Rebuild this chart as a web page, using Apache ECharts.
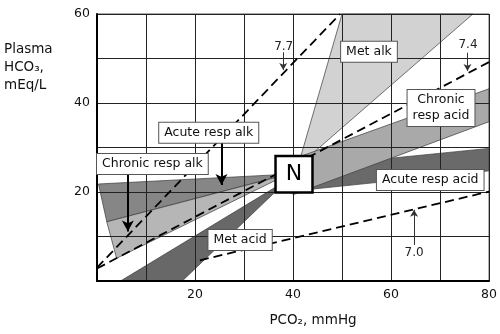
<!DOCTYPE html>
<html><head><meta charset="utf-8">
<script src="https://cdn.jsdelivr.net/npm/echarts@6/dist/echarts.min.js"></script>
<style>html,body{margin:0;padding:0;background:#fff}#c{width:500px;height:334px}</style>
</head><body><div id="c"></div>
<script>
// ---- data (PCO2 mmHg, plasma HCO3 mEq/L) ----
const xTicks = [20, 40, 60, 80];
const yTicks = [20, 40, 60];
const metAlk = [[41, 25.8], [50, 60], [76.7, 60]];
const acuteRespAcid = [[40, 25.4], [80, 29.8], [80, 24.75], [40, 20.2]];
const chronicRespAcid = [[40, 27.4], [80, 43.2], [80, 35.8], [40, 19.4]];
const acuteRespAlk = [[39, 24], [0.3, 21.8], [2, 13.3]];
const chronicRespAlk = [[39, 24], [2, 13.3], [4, 5.1]];
const metAcid = [[39, 22.8], [4.8, 0], [17.4, 0]];
const iso77 = [[0, 3], [49.6, 60]];
const iso74 = [[0, 2.8], [80, 49.2]];
const iso70 = [[21, 4.65], [80, 20.1]];
const normal = [40.2, 24];
// annotations (data coords)
const labels = [
  {text: 'Met alk', at: [55.5, 51.5]},
  {text: 'Chronic\nresp acid', at: [70.2, 38.9]},
  {text: 'Acute resp alk', at: [22.8, 33.3]},
  {text: 'Chronic resp alk', at: [11.3, 26.3]},
  {text: 'Acute resp acid', at: [68, 22.7]},
  {text: 'Met acid', at: [29.2, 9.2]}
];
const pHLabels = [
  {text: '7.7', at: [38.1, 52.7]},
  {text: '7.4', at: [75.7, 53.1]},
  {text: '7.0', at: [64.7, 6.3]}
];
const bigArrows = [[[25.4, 31.3], [25.4, 21.6]], [[6.3, 24.1], [6.3, 11.1]]];
const smallArrows = [[[38, 51.4], [38, 47.4]], [[75.6, 51.3], [75.6, 47.2]], [[64.7, 8.1], [64.7, 16.0]]];

const FONT = '"DejaVu Sans", Verdana, sans-serif';
const chart = echarts.init(document.getElementById('c'), null, {renderer: 'canvas'});

function poly(name, pts, color, z) {
  return {
    type: 'custom', name: name, coordinateSystem: 'cartesian2d', z: z, silent: true,
    data: [[pts[0][0], pts[0][1]]],
    renderItem: function (p, api) {
      return {type: 'polygon', shape: {points: pts.map(function (q) { return api.coord(q); })},
        style: {fill: color, stroke: '#3a3a3a', lineWidth: 0.7}};
    }
  };
}
function iso(pts) {
  return {type: 'line', data: pts, symbol: 'none', z: 6, silent: true,
    lineStyle: {color: '#000', width: 1.8, type: [9, 5]}};
}
function arrows(list, w, size, color) {
  return {type: 'line', data: [], z: 7, silent: true,
    markLine: {silent: true, animation: false, symbol: ['none', 'arrow'], symbolSize: size,
      label: {show: false}, lineStyle: {color: color, width: w, type: 'solid'},
      data: list.map(function (a) { return [{coord: a[0]}, {coord: a[1]}]; })}};
}
const tickFmt = function (arr) { return function (v) { return arr.indexOf(v) >= 0 ? String(v) : ''; }; };

chart.setOption({
  animation: false,
  grid: {left: 97, right: 10.7, top: 14, bottom: 53, show: true, borderColor: '#555', borderWidth: 1, z: 3},
  xAxis: {type: 'value', min: 0, max: 80, interval: 10, z: 3,
    axisLine: {show: true, lineStyle: {color: '#000', width: 2}}, axisTick: {show: false},
    splitLine: {show: true, lineStyle: {color: '#222', width: 1}},
    axisLabel: {formatter: tickFmt(xTicks), color: '#111', fontSize: 12.5, fontFamily: FONT, margin: 7}},
  yAxis: {type: 'value', min: 0, max: 60, interval: 10, z: 3,
    axisLine: {show: true, lineStyle: {color: '#000', width: 2}}, axisTick: {show: false},
    splitLine: {show: true, lineStyle: {color: '#222', width: 1}},
    axisLabel: {formatter: tickFmt(yTicks), color: '#111', fontSize: 12.5, fontFamily: FONT, margin: 7}},
  series: [
    poly('Met alk', metAlk, '#d2d2d2', 1),
    poly('Acute resp acid', acuteRespAcid, '#6a6a6a', 1),
    poly('Chronic resp acid', chronicRespAcid, '#a9a9a9', 1),
    poly('Acute resp alk', acuteRespAlk, '#868686', 1),
    poly('Chronic resp alk', chronicRespAlk, '#b6b6b6', 1),
    poly('Met acid', metAcid, '#686868', 1),
    iso(iso77), iso(iso74), iso(iso70),
    arrows(bigArrows, 2, [9, 11], '#000'),
    arrows(smallArrows, 1, [6, 7], '#333')
  ]
});

function px(p) { return chart.convertToPixel({gridIndex: 0}, p); }
const g = [];
labels.forEach(function (l) {
  const p = px(l.at);
  g.push({type: 'text', x: p[0], y: p[1], z: 20,
    style: {text: l.text, font: '12.5px ' + FONT, fill: '#111', align: 'center', verticalAlign: 'middle',
      backgroundColor: '#fff', borderColor: '#555', borderWidth: 1, padding: [2, 5, 2, 5], lineHeight: 16}});
});
pHLabels.forEach(function (l) {
  const p = px(l.at);
  g.push({type: 'text', x: p[0], y: p[1], z: 20,
    style: {text: l.text, font: '12px ' + FONT, fill: '#222', align: 'center', verticalAlign: 'middle'}});
});
const np = px(normal);
g.push({type: 'text', x: np[0], y: np[1], z: 21,
  style: {text: 'N', font: '22px ' + FONT, fill: '#000', align: 'center', verticalAlign: 'middle',
    backgroundColor: '#fff', borderColor: '#000', borderWidth: 2.5, padding: [5, 9, 5, 9], lineHeight: 24}});
g.push({type: 'text', x: 4, y: 40, z: 20,
  style: {text: 'Plasma\nHCO\u2083,\nmEq/L', font: '13.5px ' + FONT, fill: '#111', lineHeight: 18, align: 'left', verticalAlign: 'top'}});
g.push({type: 'text', x: 313, y: 320, z: 20,
  style: {text: 'PCO\u2082, mmHg', font: '13.5px ' + FONT, fill: '#111', align: 'center', verticalAlign: 'middle'}});
chart.setOption({graphic: g});
</script></body></html>
